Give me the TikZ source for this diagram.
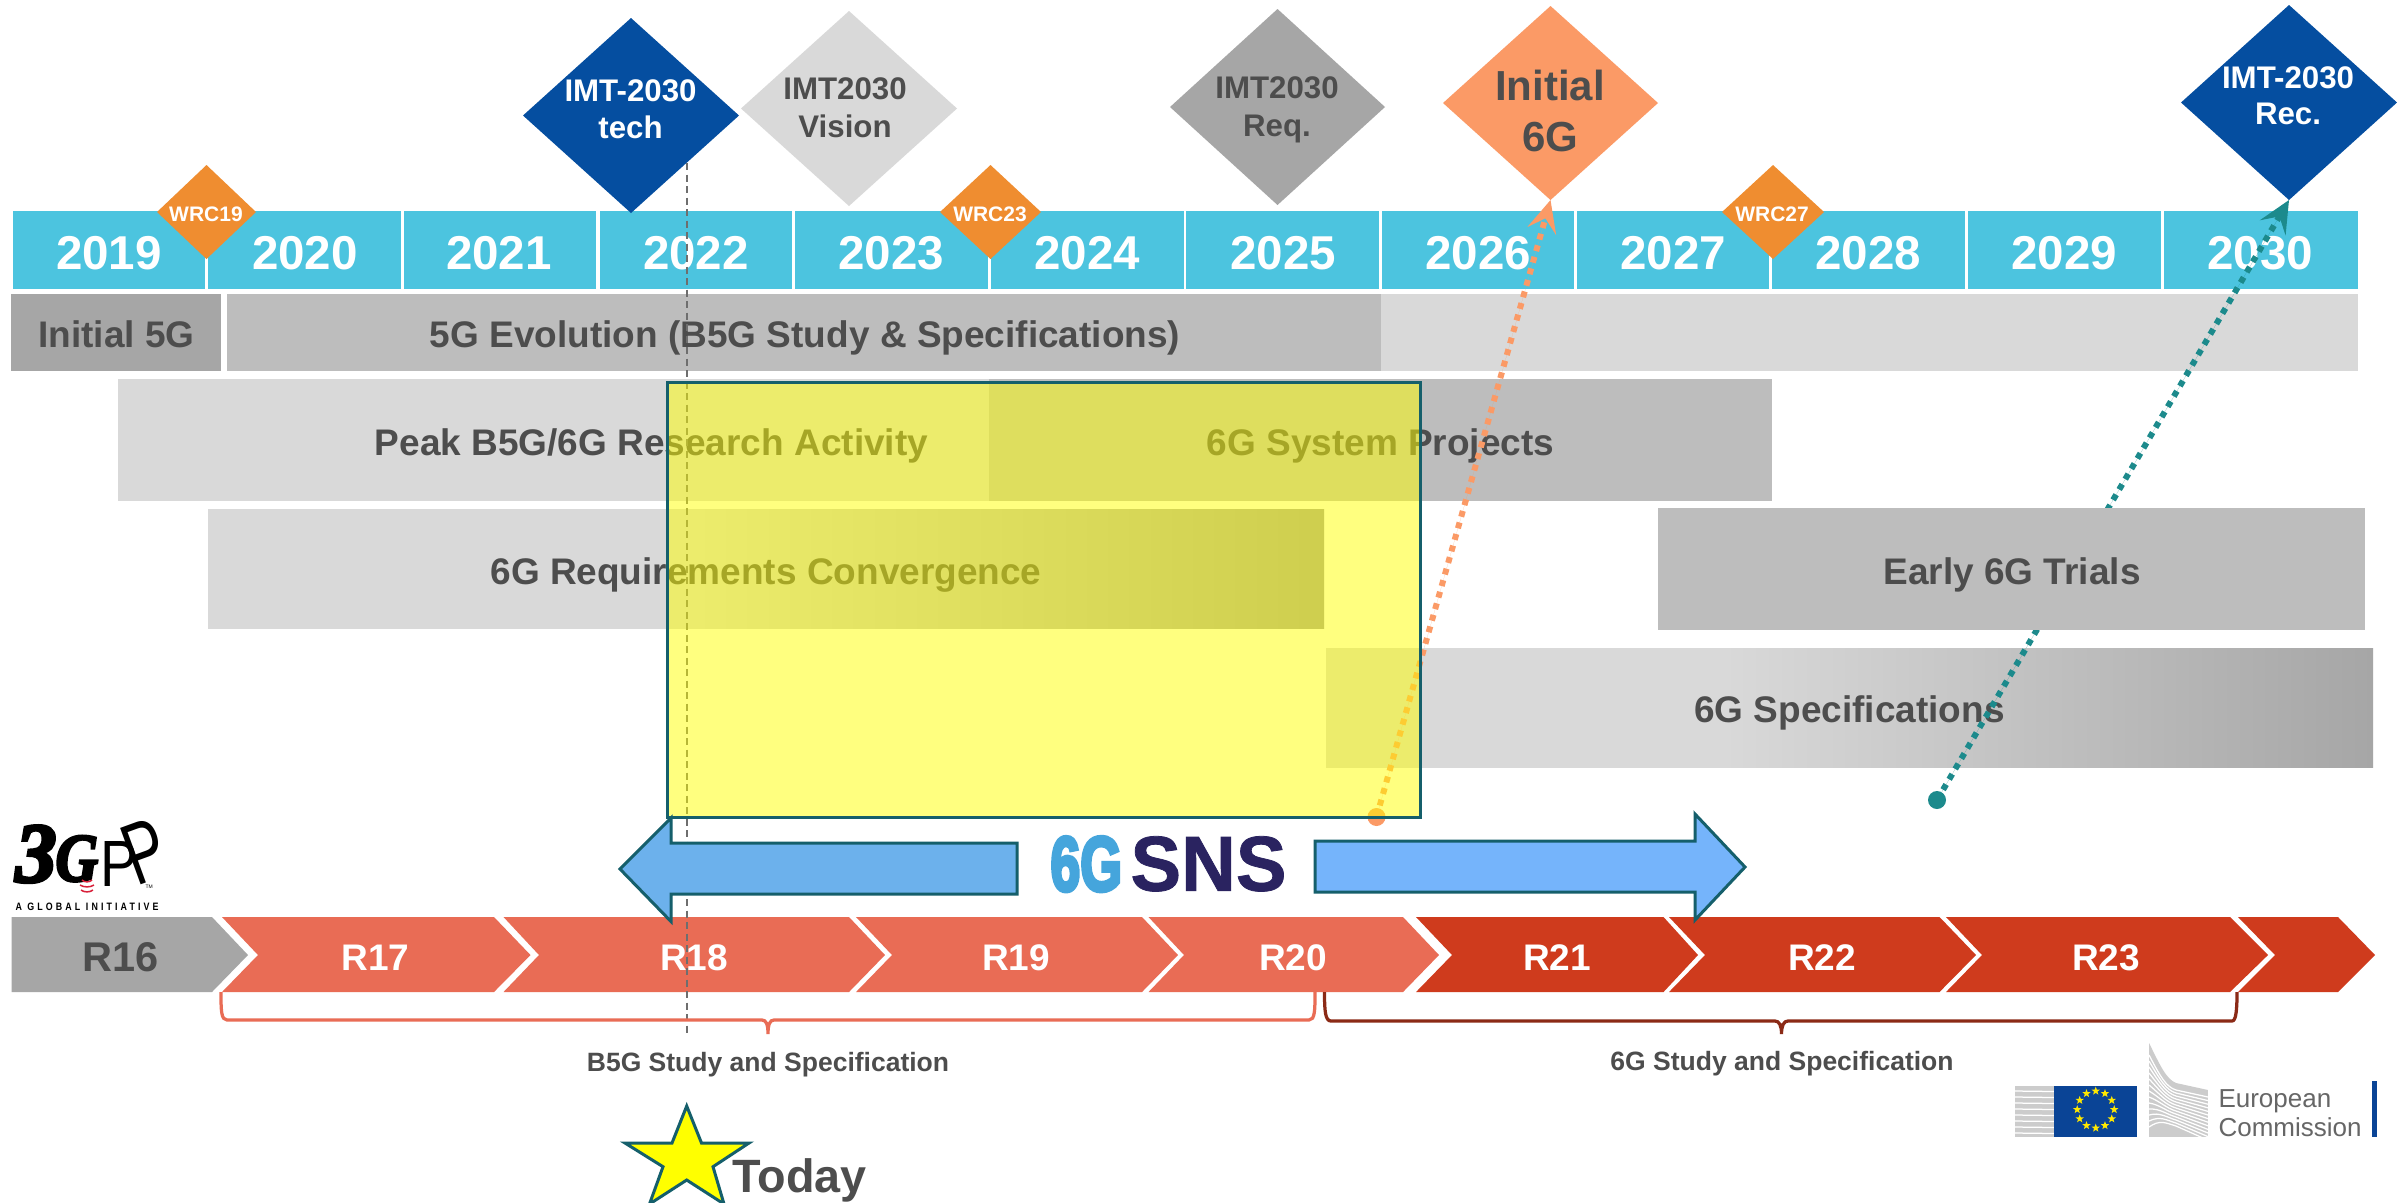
\documentclass[tikz,border=0pt]{standalone}
\usepackage{fontspec}
\usetikzlibrary{arrows.meta,shapes.geometric}
\setmainfont{Liberation Sans}
\newfontfamily\logofont[FakeBold=1,UprightFont=* Bold]{Liberation Sans}
\newfontfamily\logoheavy[FakeBold=5,UprightFont=* Bold]{Liberation Sans}
\newfontfamily\tgppserif[UprightFont=* Bold Italic,FakeBold=4]{Liberation Serif}
\newfontfamily\spaced[LetterSpace=35]{Liberation Sans}
\definecolor{cyear}{HTML}{4CC4DF}
\definecolor{ctext}{HTML}{4D4D4D}
\definecolor{clight}{HTML}{D9D9D9}
\definecolor{cmid}{HTML}{BDBDBD}
\definecolor{cdark}{HTML}{A6A6A6}
\definecolor{cnavy}{HTML}{054EA0}
\definecolor{cwrc}{HTML}{EF8D30}
\definecolor{cinit}{HTML}{FB9A66}
\definecolor{cteal}{HTML}{1C8A8C}
\definecolor{cedge}{HTML}{155F6B}
\definecolor{crelA}{HTML}{E96C55}
\definecolor{crelB}{HTML}{CF3B1D}
\definecolor{cbraceB}{HTML}{8B2A16}
\definecolor{cblueA}{HTML}{6CB1EC}
\definecolor{cblueB}{HTML}{75B4FB}
\definecolor{ceu}{HTML}{0A4496}
\definecolor{cec}{HTML}{666666}
\definecolor{cyell}{HTML}{FFFF00}
\definecolor{cdash}{HTML}{6E6E6E}
\definecolor{cstarEU}{HTML}{FFE800}
\definecolor{credarc}{HTML}{D8203A}
\pgfdeclarehorizontalshading{reqshade}{100bp}{color(0bp)=(clight); color(47bp)=(clight); color(75bp)=(black!38); color(100bp)=(black!38)}
\pgfdeclarehorizontalshading{specshade}{100bp}{color(0bp)=(clight); color(44bp)=(clight); color(75bp)=(cdark); color(100bp)=(cdark)}
\tikzset{
  lab/.style={inner sep=0pt,anchor=base,align=center,font=\bfseries},
  yearlab/.style={lab,text=white,font=\bfseries\fontsize{19}{19}\selectfont},
  rowlab/.style={lab,text=ctext,font=\bfseries\fontsize{14.8}{15}\selectfont},
  rellab/.style={lab,text=white,font=\bfseries\fontsize{14.8}{15}\selectfont},
  wrclab/.style={lab,text=white,font=\bfseries\fontsize{8.4}{9}\selectfont},
  imtlab/.style={lab,font=\bfseries\fontsize{12.5}{13}\selectfont},
  scopelab/.style={lab,text=ctext,font=\bfseries\fontsize{10.6}{11}\selectfont},
  dotted arrow/.style={line width=2.4pt,dash pattern=on 2.4pt off 2.4pt,
    -{Stealth[length=12.8pt,width=11.8pt,inset=5.2pt]}},
  startdot/.style={circle,inner sep=0pt,minimum size=7.2pt},
  blockedge/.style={draw=cedge,line width=1.2pt},
  scopebrace/.style={line width=1.3pt},
  eustar/.style={star,star points=5,star point ratio=2.4,fill=cstarEU,inner sep=0pt,minimum size=3.5pt},
  plainnode/.style={inner sep=0pt,anchor=south west},
}
% diamond: name, left, right, top, bottom, colour
\newcommand{\dmd}[6]{%
  \pgfmathsetmacro{\cxx}{(#2+#3)/2}\pgfmathsetmacro{\cyy}{(#4+#5)/2}%
  \fill[#6] (#2,\cyy) -- (\cxx,#4) -- (#3,\cyy) -- (\cxx,#5) -- cycle;
  \coordinate (#1) at (\cxx,#5);}
% chevron: x-left-top, notch/tip, x-right-top, tip, colour
\newcommand{\chev}[5]{\fill[#5] (#1,917) -- (#3,917) -- (#4,955) -- (#3,992) -- (#1,992) -- (#2,955) -- cycle;}
\begin{document}
\begin{tikzpicture}[x=0.4pt,y=-0.4pt]
\useasboundingbox (0,0) rectangle (2397,1202);
\fill[white] (0,0) rectangle (2397,1202);
% year boxes
\foreach \a/\b in {13/205,208/401,404/596,600/792,795/988,991/1184,1186/1379,1382/1574,1577/1769,1772/1965,1968/2161,2164/2358}
  \fill[cyear] (\a,211) rectangle (\b,289);
\node[yearlab] (y19) at (109,269) {2019};
\node[yearlab] (y20) at (305,269) {2020};
\node[yearlab] (y21) at (499,269) {2021};
\node[yearlab] (y22) at (696,269) {2022};
\node[yearlab] (y23) at (891,269) {2023};
\node[yearlab] (y24) at (1087,269) {2024};
\node[yearlab] (y25) at (1283,269) {2025};
\node[yearlab] (y26) at (1478,269) {2026};
\node[yearlab] (y27) at (1673,269) {2027};
\node[yearlab] (y28) at (1868,269) {2028};
\node[yearlab] (y29) at (2064,269) {2029};
\node[yearlab] (y30) at (2260,269) {2030};
% row bars
\fill[cdark] (11,294) rectangle (221,371);
\fill[cmid] (227,294) rectangle (1381,371);
\fill[clight] (1381,294) rectangle (2358,371);
\fill[clight] (118,379) rectangle (989,501);
\fill[cmid] (989,379) rectangle (1772,501);
\shade[shading=reqshade] (208,509) rectangle (1324,628);
\shade[shading=specshade] (1326,648) rectangle (2373,767);
\node[rowlab] (r5g) at (116.5,347) {Initial 5G};
\node[rowlab] (evo) at (805,347) {5G Evolution (B5G Study \& Specifications)};
\node[rowlab] (peak) at (651.5,455) {Peak B5G/6G Research Activity};
\node[rowlab] (sys) at (1380.5,455) {6G System Projects};
\node[rowlab] (req) at (766,584) {6G Requirements Convergence};
\node[rowlab] (spec) at (1849.5,722) {6G Specifications};
% milestones
\dmd{mtech}{523}{739}{18}{213}{cnavy}
\dmd{mvis}{741}{957}{11}{206}{clight}
\dmd{mreq}{1170}{1385}{9}{205}{cdark}
\dmd{minit}{1443}{1658}{6}{200}{cinit}
\dmd{mrec}{2181}{2397}{5}{200}{cnavy}
\dmd{w19}{157}{256}{165}{259}{cwrc}
\dmd{w23}{940}{1041}{165}{259}{cwrc}
\dmd{w27}{1722}{1824}{165}{259}{cwrc}
\node[wrclab] (tw19) at (206,221) {WRC19};
\node[wrclab] (tw23) at (990,221) {WRC23};
\node[wrclab] (tw27) at (1772,221) {WRC27};
\node[imtlab,text=white] (ttech1) at (630.5,101) {IMT-2030};
\node[imtlab,text=white] (ttech2) at (630.5,138) {tech};
\node[imtlab,text=ctext] (tvis1) at (845,99.5) {IMT2030};
\node[imtlab,text=ctext] (tvis2) at (845,137) {Vision};
\node[imtlab,text=ctext] (treq1) at (1277,98.5) {IMT2030};
\node[imtlab,text=ctext] (treq2) at (1277,136) {Req.};
\node[lab,text=ctext,font=\bfseries\fontsize{16.8}{17}\selectfont] (tinit1) at (1550,100) {Initial};
\node[lab,text=ctext,font=\bfseries\fontsize{16.8}{17}\selectfont] (tinit2) at (1550,151) {6G};
\node[imtlab,text=white] (trec1) at (2288,88) {IMT-2030};
\node[imtlab,text=white] (trec2) at (2288,124) {Rec.};
% today line
\coordinate (dashtop) at (686.5,163);
\coordinate (dashbot) at (686.5,1033);
% releases
\chev{11.5}{11.5}{212}{248}{cdark}
\chev{222}{258}{494}{530.5}{crelA}
\chev{503.5}{539}{849}{885}{crelA}
\chev{856}{892}{1142}{1178}{crelA}
\chev{1148.5}{1184}{1403}{1439}{crelA}
\chev{1416}{1452}{1663.5}{1698}{crelB}
\chev{1669}{1705}{1939.5}{1976}{crelB}
\chev{1946}{1982}{2230}{2268}{crelB}
\chev{2238}{2275}{2338}{2375}{crelB}
\node[lab,text=ctext,font=\bfseries\fontsize{16.6}{17}\selectfont] (r16) at (121,971) {R16};
\node[rellab] (r17) at (375.5,970) {R17};
\node[rellab] (r18) at (694,970) {R18};
\node[rellab] (r19) at (1016,970) {R19};
\node[rellab] (r20) at (1293,970) {R20};
\node[rellab] (r21) at (1557,970) {R21};
\node[rellab] (r22) at (1822,970) {R22};
\node[rellab] (r23) at (2106,970) {R23};
\draw[cdash,line width=0.8pt,dash pattern=on 2.8pt off 1.8pt] (dashtop) -- (dashbot);
% arrows
\node[startdot,fill=cteal] (dotteal) at (1937,800) {};
\draw[dotted arrow,draw=cteal,fill=cteal] (dotteal.center) -- (mrec);
\fill[cmid] (1658,508) rectangle (2365,630);
\node[rowlab] (trial) at (2012,584) {Early 6G Trials};
\node[startdot,fill=cinit] (dotorange) at (1376.5,817) {};
\draw[dotted arrow,draw=cinit,fill=cinit] (dotorange.center) -- (minit);
% highlight
\fill[cyell,fill opacity=0.5] (667,382) rectangle (1420,817.5);
\draw[cedge,line width=1.2pt] (667,382) rectangle (1420,817.5);
% SNS arrows
\path[blockedge,fill=cblueA] (620,869) -- (671,818) -- (671,843) -- (1017,843) -- (1017,894) -- (671,894) -- (671,921.5) -- cycle;
\path[blockedge,fill=cblueB] (1745,867) -- (1695,814) -- (1695,841) -- (1315,841) -- (1315,892) -- (1695,892) -- (1695,920) -- cycle;
\node[plainnode] (sns6g) at (1050,892) {\color[HTML]{45A5DC}\resizebox{28.6pt}{21.6pt}{\logoheavy 6G}};
\node[plainnode] (snssns) at (1130,892) {\color[HTML]{2A2360}\resizebox{62.4pt}{21.8pt}{\logofont SNS}};
% braces
\draw[scopebrace,draw=crelA] (221,992) .. controls (221,1010) and (221,1020) .. (227,1020) -- (762,1020) .. controls (766,1020) and (768,1024) .. (768,1034) .. controls (768,1024) and (770,1020) .. (774,1020) -- (1309,1020) .. controls (1315,1020) and (1315,1010) .. (1315,992);
\draw[scopebrace,draw=cbraceB] (1324.5,992) .. controls (1324.5,1010) and (1325,1021) .. (1331,1021) -- (1775,1021) .. controls (1779,1021) and (1781.5,1025) .. (1781.5,1034) .. controls (1781.5,1025) and (1784,1021) .. (1788,1021) -- (2232,1021) .. controls (2236,1021) and (2237,1010) .. (2237,992);
\node[scopelab] (tb5g) at (768,1071) {B5G Study and Specification};
\node[scopelab] (t6g) at (1782,1070) {6G Study and Specification};
% today star
\path[draw=cedge,line width=1.2pt,fill=cyell] (686.7,1106) -- (701.5,1143) -- (749,1143) -- (713,1166.7) -- (724,1204) -- (686.7,1180) -- (649.5,1204) -- (663,1166.7) -- (625,1143) -- (672,1143) -- cycle;
\node[lab,anchor=base west,text=ctext,font=\bfseries\fontsize{18.7}{19}\selectfont] (today) at (732,1192) {Today};
% 3GPP logo
\node[plainnode,text=black] (g3) at (15,883) {\resizebox{16.4pt}{22.4pt}{\tgppserif 3}};
\node[plainnode,text=black] (gg) at (55,882) {\resizebox{17pt}{18pt}{\tgppserif G}};
\node[plainnode,text=black] (gp1) at (100,887) {\resizebox{15pt}{18pt}{P}};
\node[plainnode,text=black,rotate=20] (gp2) at (136,887) {\resizebox{16pt}{24pt}{P}};
\foreach \yy/\w in {880/5,885/7,890/6}
  \draw[credarc,line width=0.6pt] (87-\w,\yy) .. controls (87-\w/2,\yy+2.5) and (87+\w/2,\yy+2.5) .. (87+\w,\yy);
\node[plainnode,text=black,font=\fontsize{2}{2}\selectfont] (gtm) at (145,888.5) {TM};
\node[plainnode,text=black] (gglobal) at (15,911) {\resizebox{57.2pt}{3pt}{\spaced\bfseries A GLOBAL INITIATIVE}};
% EU logo
\fill[black!20] (2015,1086) rectangle (2054,1137);
\foreach \yy in {1091,1097,1103,1109,1115,1121,1127,1133}
  \draw[white,line width=0.5pt] (2015,\yy) -- (2054,\yy+0.5);
\fill[ceu] (2054,1086) rectangle (2137,1137);
\foreach \i in {0,30,...,330}
  \node[eustar] (es\i) at ({2095.7+18.5*cos(\i)},{1109.5+18.5*sin(\i)}) {};
\begin{scope}
\clip (2149,1043) .. controls (2160,1065) and (2166,1079) .. (2176,1083) -- (2208,1090) -- (2208,1137) -- (2149,1137) -- cycle;
\fill[black!20] (2149,1040) rectangle (2208,1137);
\foreach \d in {0,6,...,72}
  \draw[white,line width=0.5pt] (2149,1055+\d) .. controls (2160,1076+\d*0.6) and (2166,1087+\d*0.5) .. (2176,1090+\d*0.5) -- (2208,1097+\d*0.6);
\end{scope}
\node[inner sep=0pt,anchor=base west,text=cec,font=\fontsize{10.4}{11}\selectfont] (eu1) at (2218,1107) {European};
\node[inner sep=0pt,anchor=base west,text=cec,font=\fontsize{10.4}{11}\selectfont] (eu2) at (2218,1136.5) {Commission};
\fill[ceu] (2372,1081) rectangle (2377,1137);
\end{tikzpicture}
\end{document}
